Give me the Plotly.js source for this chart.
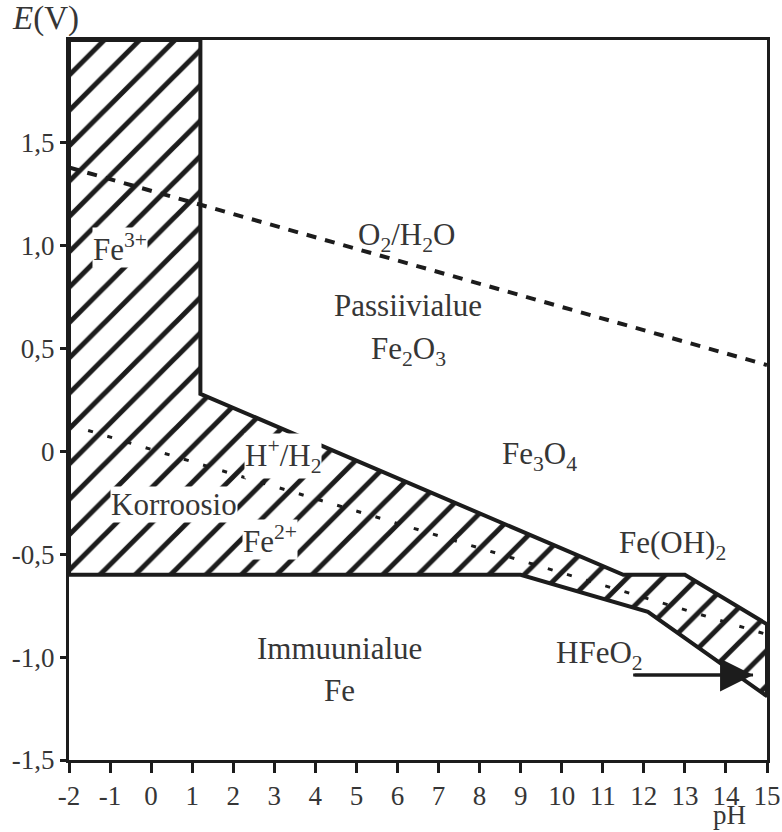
<!DOCTYPE html>
<html>
<head>
<meta charset="utf-8">
<script src="https://cdn.plot.ly/plotly-3.0.1.min.js"></script>
<style>
  html, body { margin: 0; padding: 0; background: #ffffff; }
  #chart { width: 782px; height: 832px; }
</style>
</head>
<body>
<div id="chart"></div>
<script>
// ---- Data (pH, E in volts) ----
const phTickVals = [-2, -1, 0, 1, 2, 3, 4, 5, 6, 7, 8, 9, 10, 11, 12, 13, 14, 15];
const eTickVals = [-1.5, -1.0, -0.5, 0, 0.5, 1.0, 1.5];
const eTickText = ["-1,5", "-1,0", "-0,5", "0", "0,5", "1,0", "1,5"];

// Corrosion region (Fe3+, Fe2+, HFeO2-) outline
const corrPH = [-2, 1.2, 1.2, 11.5, 13.0, 15, 15, 12.1, 9.0, -2, -2];
const corrE  = [2.0, 2.0, 0.28, -0.60, -0.60, -0.84, -1.19, -0.78, -0.60, -0.60, 2.0];

// O2/H2O line
const o2PH = [-2, 15];
const o2E  = [1.38, 0.42];

// H+/H2 line
const h2PH = [-2, 15];
const h2E  = [0.13, -0.89];

// HFeO2 pointer arrow (tail -> head)
const arrowPH = [11.74, 14.66];
const arrowE  = [-1.087, -1.087];

// Region labels
const labelText = [
  "Fe<sup>3+</sup>", "O<sub>2</sub>/H<sub>2</sub>O", "Passiivialue", "Fe<sub>2</sub>O<sub>3</sub>",
  "H<sup>+</sup>/H<sub>2</sub>", "Fe<sub>3</sub>O<sub>4</sub>", "Korroosio", "Fe<sup>2+</sup>",
  "Fe(OH)<sub>2</sub>", "HFeO<sub>2</sub>", "Immuunialue", "Fe"
];
const labelPH = [-0.76, 6.23, 6.26, 6.26, 3.21, 9.47, 0.56, 2.9, 12.71, 10.93, 4.6, 4.6];
const labelE  = [0.99, 1.04, 0.707, 0.49, -0.02, -0.02, -0.26, -0.43, -0.455, -0.99, -0.956, -1.16];
const labelWhiteBg = [true, false, false, false, true, false, true, true, false, false, false, false];

const ink = "#1c1c1c";
const textInk = "#363636";
const serif = "Liberation Serif";

const traces = [
  {
    x: corrPH, y: corrE,
    type: "scatter", mode: "lines",
    fill: "toself",
    fillcolor: "#ffffff",
    fillpattern: { shape: "/", size: 25, solidity: 0.2, fgcolor: ink, bgcolor: "#ffffff" },
    line: { color: ink, width: 4 },
    hoverinfo: "skip", showlegend: false
  },
  {
    x: h2PH, y: h2E,
    type: "scatter", mode: "lines",
    line: { color: ink, width: 3, dash: "5px,15px" },
    hoverinfo: "skip", showlegend: false
  },
  {
    x: o2PH, y: o2E,
    type: "scatter", mode: "lines",
    line: { color: ink, width: 4, dash: "10px,9px" },
    hoverinfo: "skip", showlegend: false
  },
  {
    x: arrowPH, y: arrowE,
    type: "scatter", mode: "lines",
    line: { color: ink, width: 3 },
    hoverinfo: "skip", showlegend: false
  }
];

const annotations = labelText.map((t, i) => ({
  x: labelPH[i], y: labelE[i], xref: "x", yref: "y",
  text: t, showarrow: false,
  font: { family: serif, size: 31, color: textInk },
  bgcolor: labelWhiteBg[i] ? "#ffffff" : "rgba(0,0,0,0)",
  borderpad: 0,
  xanchor: "center", yanchor: "middle"
}));

// arrow head
annotations.push({
  x: arrowPH[1], y: arrowE[1], xref: "x", yref: "y",
  ax: arrowPH[0], ay: arrowE[0], axref: "x", ayref: "y",
  text: "", showarrow: true,
  arrowhead: 2, arrowsize: 2.2, arrowwidth: 3, arrowcolor: ink
});

// axis titles
annotations.push({
  x: -0.033, y: 1.03, xref: "paper", yref: "paper",
  text: "<i>E</i>(V)", showarrow: false,
  font: { family: serif, size: 33, color: textInk },
  xanchor: "center", yanchor: "middle"
});
annotations.push({
  x: 0.946, y: -0.0986, xref: "paper", yref: "paper",
  text: "pH", showarrow: false,
  font: { family: serif, size: 27, color: textInk },
  borderpad: 0,
  xanchor: "center", yanchor: "bottom"
});

const layout = {
  width: 782, height: 832,
  margin: { l: 69, r: 15, t: 40, b: 72, pad: 0 },
  paper_bgcolor: "#ffffff", plot_bgcolor: "#ffffff",
  showlegend: false,
  font: { family: serif, color: textInk },
  xaxis: {
    range: [-2, 15],
    tickvals: phTickVals,
    ticktext: phTickVals.map(String),
    ticks: "outside", ticklen: 10, tickwidth: 3, tickcolor: ink,
    showline: true, linecolor: ink, linewidth: 3, mirror: true,
    showgrid: false, zeroline: false,
    tickfont: { family: serif, size: 27, color: textInk }
  },
  yaxis: {
    range: [-1.5, 2.0],
    tickvals: eTickVals,
    ticktext: eTickText,
    ticks: "outside", ticklen: 6, tickwidth: 3, tickcolor: ink,
    showline: true, linecolor: ink, linewidth: 3, mirror: true,
    showgrid: false, zeroline: false,
    tickfont: { family: serif, size: 27, color: textInk }
  },
  annotations: annotations
};

Plotly.newPlot("chart", traces, layout, { staticPlot: true, displayModeBar: false });
</script>
</body>
</html>
